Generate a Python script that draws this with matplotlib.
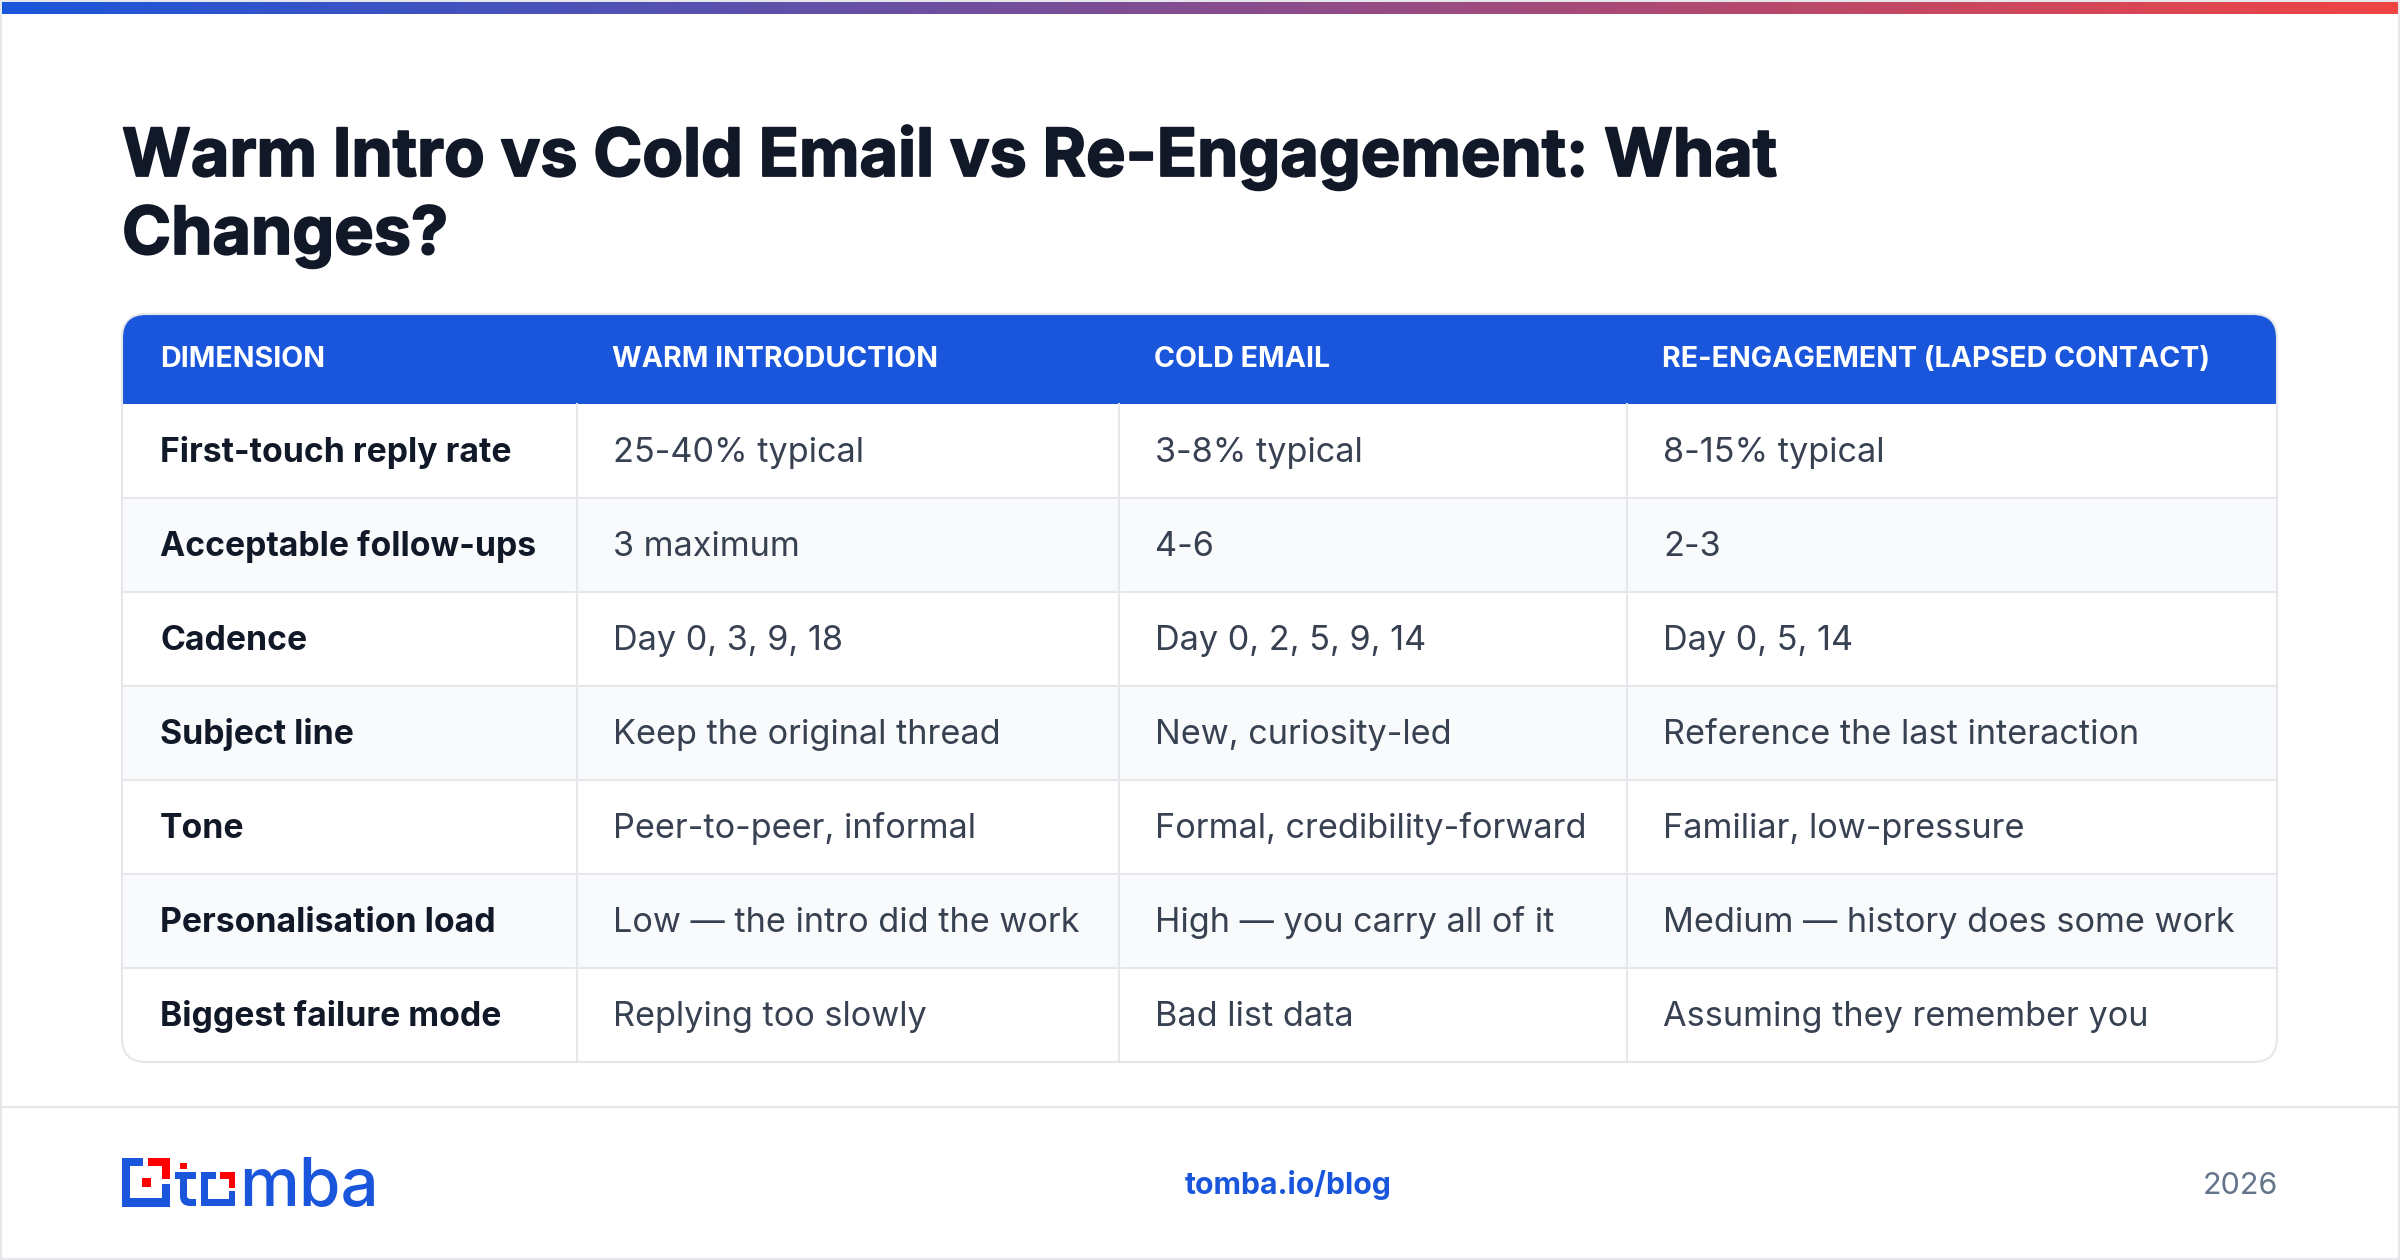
#!/usr/bin/env python3

import numpy as np
import matplotlib.pyplot as plt
import matplotlib.patheffects as pe
from matplotlib.patches import Rectangle, FancyBboxPatch, Polygon, PathPatch
from matplotlib.path import Path

# table content
HEADERS = ["DIMENSION", "WARM INTRODUCTION", "COLD EMAIL", "RE-ENGAGEMENT (LAPSED CONTACT)"]
DIMENSIONS = ["First-touch reply rate", "Acceptable follow-ups", "Cadence", "Subject line",
              "Tone", "Personalisation load", "Biggest failure mode"]
WARM = ["25-40% typical", "3 maximum", "Day 0, 3, 9, 18", "Keep the original thread",
        "Peer-to-peer, informal", "Low — the intro did the work", "Replying too slowly"]
COLD = ["3-8% typical", "4-6", "Day 0, 2, 5, 9, 14", "New, curiosity-led",
        "Formal, credibility-forward", "High — you carry all of it", "Bad list data"]
REENGAGE = ["8-15% typical", "2-3", "Day 0, 5, 14", "Reference the last interaction",
            "Familiar, low-pressure", "Medium — history does some work", "Assuming they remember you"]
TITLE_LINES = ["Warm Intro vs Cold Email vs Re-Engagement: What", "Changes?"]

BLUE = "#1a56db"
RED = "#ff0000"
LINE = "#e5e7eb"
DARK = "#111827"
BODY = "#374151"

plt.rcParams['font.family'] = ['Inter', 'DejaVu Sans']

fig = plt.figure(figsize=(24, 12.6), dpi=100)
ax = fig.add_axes([0, 0, 1, 1])
ax.set_xlim(0, 2400)
ax.set_ylim(1260, 0)
ax.axis("off")

# card border and top gradient
ax.add_patch(Rectangle((1, 1), 2398, 1258, fc="white", ec=LINE, lw=1.5))
grad = np.linspace(0, 1, 600)[None, :, None]
c0 = np.array([0x1a, 0x56, 0xdb]) / 255
c1 = np.array([0xef, 0x44, 0x44]) / 255
ax.imshow(c0 + (c1 - c0) * grad, extent=(2, 2398, 14, 2), aspect="auto", zorder=2)
ax.set_xlim(0, 2400)
ax.set_ylim(1260, 0)

# stroke thickens the title, the original is a heavier cut than plain bold
for i, line in enumerate(TITLE_LINES):
    ax.text(122, 176 + i * 78, line, fontsize=47.8, fontweight="bold", color=DARK,
            va="baseline", ha="left",
            path_effects=[pe.withStroke(linewidth=1.3, foreground=DARK)])

# table
left, right, top, bottom = 122, 2277, 314, 1062
col_x = [122, 577, 1119, 1627]
row_h = 94
head_b = 404

rounded = FancyBboxPatch((left, top), right - left, bottom - top,
                         boxstyle="round,pad=0,rounding_size=24",
                         fc="white", ec="none", zorder=1)
ax.add_patch(rounded)
outline = FancyBboxPatch((left, top), right - left, bottom - top,
                         boxstyle="round,pad=0,rounding_size=24",
                         fc="none", ec=LINE, lw=1.5, zorder=6)
ax.add_patch(outline)

head = Rectangle((left, top), right - left, head_b - top, fc=BLUE, ec="none", zorder=2)
ax.add_patch(head)
head.set_clip_path(rounded)

rows = list(zip(DIMENSIONS, WARM, COLD, REENGAGE))
for r, row in enumerate(rows):
    y0 = head_b + r * row_h
    if r % 2 == 1:
        ax.add_patch(Rectangle((left, y0), right - left, row_h, fc="#f9fafb", ec="none", zorder=2))
    if r > 0:
        ax.plot([left, right], [y0, y0], color=LINE, lw=1.5, zorder=3)
    for c, val in enumerate(row):
        if c == 0:
            ax.text(col_x[c] + 38, y0 + 58, val, fontsize=24.3, color=DARK,
                    fontweight="bold", va="baseline", ha="left", zorder=5)
        else:
            ax.text(col_x[c] + 36, y0 + 58, val, fontsize=24.65, color=BODY,
                    va="baseline", ha="left", zorder=5)
for x in col_x[1:]:
    ax.plot([x, x], [head_b, bottom], color=LINE, lw=1.5, zorder=3)
for c, h in enumerate(HEADERS):
    ax.text(col_x[c] + (38 if c == 0 else 34.5), 367, h, fontsize=20.6, fontweight="bold",
            color="white", va="baseline", ha="left", zorder=5)

# footer
ax.plot([0, 2400], [1107, 1107], color=LINE, lw=1.5)
ax.text(1288, 1194, "tomba.io/blog", fontsize=21.7, fontweight="bold", color=BLUE,
        va="baseline", ha="center")
ax.text(2278, 1194, "2026", fontsize=22, color="#64748b", va="baseline", ha="right")

# logo mark
ax.add_patch(Polygon([(122, 1158), (143, 1158), (143, 1166), (130, 1166), (130, 1198),
                      (162, 1198), (162, 1184), (170, 1184), (170, 1207), (122, 1207)],
                     fc=BLUE, ec="none"))
ax.add_patch(Polygon([(148, 1158), (170, 1158), (170, 1179), (162, 1179), (162, 1166), (148, 1166)],
                     fc=RED, ec="none"))
ax.add_patch(Rectangle((142, 1178), 9, 9, fc=RED, ec="none"))

# logo "t" and "o" are drawn glyphs, not a font
ax.add_patch(Rectangle((180, 1163), 7, 6, fc=RED, ec="none"))
ax.add_patch(Rectangle((175, 1172), 21, 7, fc=BLUE, ec="none"))
t_verts = [(180, 1179), (180, 1196), (180, 1206), (190, 1206), (196, 1206), (196, 1199),
           (191, 1199), (187, 1199), (187, 1196), (187, 1179), (180, 1179)]
t_codes = [Path.MOVETO, Path.LINETO, Path.CURVE3, Path.CURVE3, Path.LINETO, Path.LINETO,
           Path.LINETO, Path.CURVE3, Path.CURVE3, Path.LINETO, Path.CLOSEPOLY]
ax.add_patch(PathPatch(Path(t_verts, t_codes), fc=BLUE, ec="none"))
ax.add_patch(Polygon([(201, 1172), (216, 1172), (216, 1179), (208, 1179), (208, 1199),
                      (229, 1199), (229, 1191), (235, 1191), (235, 1206), (201, 1206)],
                     fc=BLUE, ec="none"))
ax.add_patch(Polygon([(220, 1172), (235, 1172), (235, 1188), (229, 1188), (229, 1179), (220, 1179)],
                     fc=RED, ec="none"))
ax.text(239, 1206, "mba", fontsize=48.5, fontweight="medium", color=BLUE, va="baseline", ha="left")

fig.savefig("out.png", dpi=100)
